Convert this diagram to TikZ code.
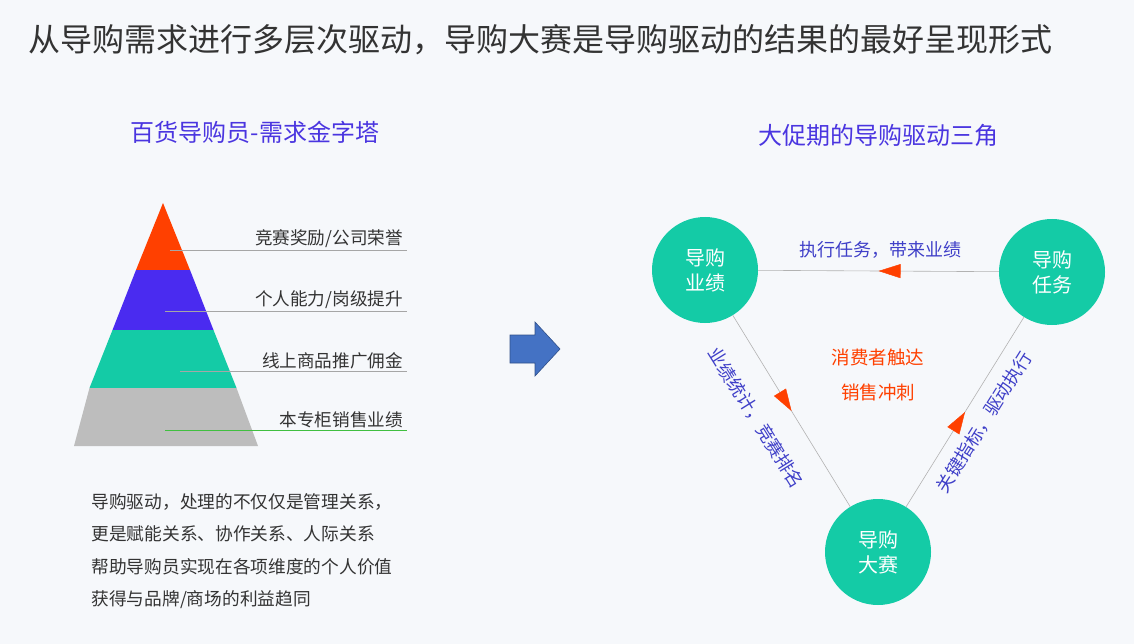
\documentclass[tikz,border=0pt]{standalone}
\usepackage{fontspec}
\setmainfont{Noto Sans CJK SC}
\usetikzlibrary{arrows.meta, decorations.markings}
\definecolor{bgc}{HTML}{F6F8FB}
\definecolor{titlec}{HTML}{333333}
\definecolor{subc}{HTML}{4A35E0}
\definecolor{redc}{HTML}{FF4000}
\definecolor{purc}{HTML}{4A2BF0}
\definecolor{tealc}{HTML}{14CBA6}
\definecolor{grayc}{HTML}{BDBDBD}
\definecolor{linkc}{HTML}{3F3FC8}
\definecolor{arrc}{HTML}{4472C4}
\tikzset{
  levellabel/.style={anchor=south east, font=\fontsize{17.6}{17.6}\selectfont, text=titlec, inner sep=2pt},
  levelline/.style={draw=gray!70, line width=0.5pt},
  circ/.style={circle, fill=tealc, minimum size=106pt, text=white, align=center, font=\fontsize{20}{25}\selectfont},
  link/.style={draw=gray!60, line width=0.6pt},
  tip/.style={decoration={markings, mark=at position 0.5 with {\arrow{Triangle[length=22pt,width=14pt]}}}, postaction={decorate}, color=redc},
  linklabel/.style={text=linkc, font=\fontsize{18}{18}\selectfont},
  bodytext/.style={anchor=west, text=titlec, font=\fontsize{17.7}{17.7}\selectfont}
}
\begin{document}
\begin{tikzpicture}[x=1pt, y=-1pt]
\useasboundingbox (0,0) rectangle (1134,644);
\fill[bgc] (0,0) rectangle (1134,644);
% title
\node[anchor=west, text=titlec, font=\fontsize{32}{32}\selectfont] (title) at (25,40) {从导购需求进行多层次驱动，导购大赛是导购驱动的结果的最好呈现形式};
\node[text=subc, font=\fontsize{24}{24}\selectfont] (sub1) at (255,132) {百货导购员-需求金字塔};
\node[text=subc, font=\fontsize{24}{24}\selectfont] (sub2) at (878,135) {大促期的导购驱动三角};
% pyramid
\fill[redc] (163,203) -- (190,270) -- (136,270) -- cycle;
\fill[purc] (136,270) -- (190,270) -- (213.5,330) -- (112.5,330) -- cycle;
\fill[tealc] (112.5,330) -- (213.5,330) -- (236.5,388) -- (89.5,388) -- cycle;
\fill[grayc] (89.5,388) -- (236.5,388) -- (258,446) -- (74,446) -- cycle;
\draw[levelline] (170,250) -- (407,250);
\draw[levelline] (165,311) -- (407,311);
\draw[levelline] (180,371) -- (407,371);
\draw[levelline, draw=green!50!gray] (165,430) -- (407,430);
\node[levellabel] (l1) at (405,250) {竞赛奖励/公司荣誉};
\node[levellabel] (l2) at (405,311) {个人能力/岗级提升};
\node[levellabel] (l3) at (405,371) {线上商品推广佣金};
\node[levellabel] (l4) at (405,430) {本专柜销售业绩};
% arrow
\filldraw[fill=arrc, draw=arrc!70!black, line width=0.6pt] (510,335) -- (535,335) -- (535,322) -- (560,349) -- (535,376) -- (535,363) -- (510,363) -- cycle;
% triangle
\node[circ] (perf) at (705,270) {导购\\业绩};
\node[circ] (task) at (1052,272) {导购\\任务};
\node[circ] (match) at (878,552) {导购\\大赛};
\draw[link] (task) -- (perf);
\draw[link] (perf) -- (match);
\draw[link] (match) -- (task);
\path[tip] (task) -- (perf);
\path[tip] (perf) -- (match);
\path[tip] (match) -- (task);
\node[linklabel] (t1) at (880,250) {执行任务，带来业绩};
\node[linklabel, rotate=-58] (t2) at (756,418) {业绩统计，竞赛排名};
\node[linklabel, rotate=58] (t3) at (984,422) {关键指标，驱动执行};
\node[text=redc, font=\fontsize{18.5}{18.5}\selectfont] (c1) at (878,357) {消费者触达};
\node[text=redc, font=\fontsize{18.5}{18.5}\selectfont] (c2) at (878,392) {销售冲刺};
% body
\node[bodytext] (b1) at (88,502) {导购驱动，处理的不仅仅是管理关系，};
\node[bodytext] (b2) at (88,534) {更是赋能关系、协作关系、人际关系};
\node[bodytext] (b3) at (88,567) {帮助导购员实现在各项维度的个人价值};
\node[bodytext] (b4) at (88,600) {获得与品牌/商场的利益趋同};
\end{tikzpicture}
\end{document}
